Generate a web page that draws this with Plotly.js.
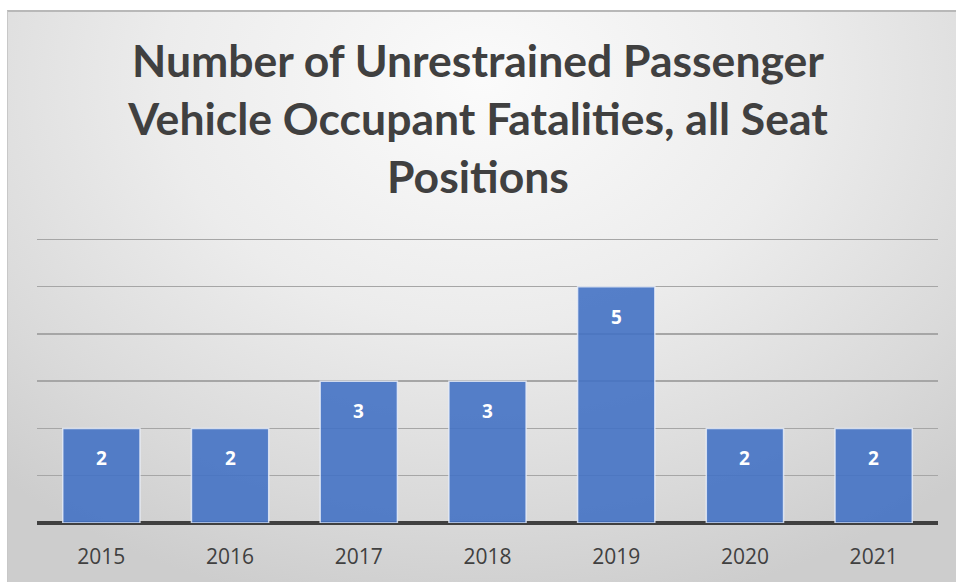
<!DOCTYPE html>
<html><head><meta charset="utf-8">
<script src="https://cdn.plot.ly/plotly-3.0.1.min.js"></script>
<style>
html,body{margin:0;padding:0;background:#fff;width:956px;height:582px;overflow:hidden;}
#bg{position:absolute;left:7px;top:10px;width:949px;height:572px;border-top:2px solid #b8b8b8;border-left:1px solid #c8c8c8;box-sizing:border-box;
background:radial-gradient(ellipse 75% 95% at 50% 12%, #fbfbfb 0%, #ececec 45%, #d9d9d9 80%, #cdcdcd 100%);}
#chart{position:absolute;left:0;top:0;width:956px;height:582px;}
</style></head><body>
<div id="bg"></div>
<div id="chart"></div>
<script>
const years = ['2015','2016','2017','2018','2019','2020','2021'];
const fatalities = [2, 2, 3, 3, 5, 2, 2];
const titleText = 'Number of Unrestrained Passenger<br>Vehicle Occupant Fatalities, all Seat<br>Positions';

const trace = {
  type: 'bar', x: years, y: fatalities,
  marker: {color: 'rgba(68,114,196,0.9)', line: {color: 'rgba(235,240,250,0.8)', width: 1.5}},
  hoverinfo: 'none'
};
const annotations = years.map((yr, i) => ({
  x: i, y: fatalities[i], xref: 'x', yref: 'y', text: '<b>' + fatalities[i] + '</b>',
  showarrow: false, yanchor: 'top', yshift: -15,
  font: {family: 'Open Sans, sans-serif', size: 19, color: '#ffffff'}
}));
const layout = {
  width: 956, height: 582,
  paper_bgcolor: 'rgba(0,0,0,0)', plot_bgcolor: 'rgba(0,0,0,0)',
  margin: {l: 37, r: 18, t: 238, b: 59},
  title: {text: titleText, x: 0.5, xanchor: 'center', y: 0.867, yanchor: 'top',
    font: {family: 'Lato, sans-serif', size: 44.5, color: '#404040', weight: 'bold'}},
  bargap: 0.4,
  showlegend: false,
  xaxis: {type: 'category', range: [-0.5, 6.5], showgrid: false, zeroline: false, showline: false,
    ticks: 'outside', ticklen: 15, tickcolor: 'rgba(0,0,0,0)',
    tickfont: {family: 'Open Sans, sans-serif', size: 21, color: '#404040'}},
  yaxis: {range: [0, 6.03], tickvals: [1, 2, 3, 4, 5, 6], showgrid: true, gridcolor: '#a6a6a6', gridwidth: 1.5,
    showticklabels: false, zeroline: true, zerolinecolor: '#404040', zerolinewidth: 4, showline: false},
  annotations: annotations
};
Plotly.newPlot('chart', [trace], layout, {displayModeBar: false, staticPlot: true});
</script></body></html>
